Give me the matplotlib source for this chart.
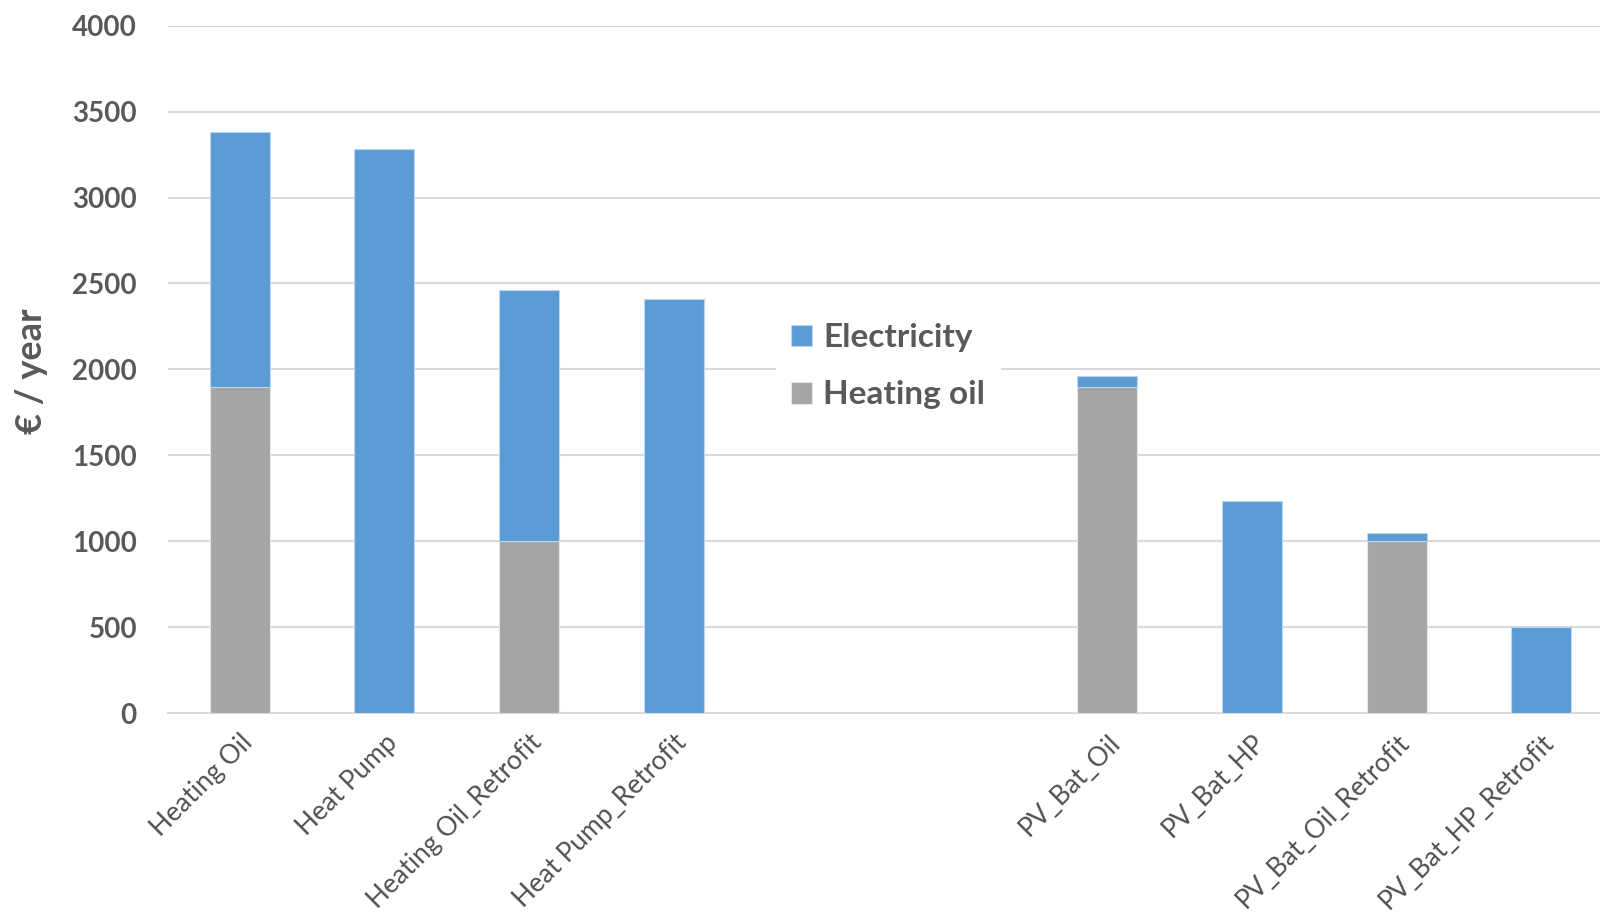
import matplotlib
matplotlib.use("Agg")
import matplotlib.pyplot as plt
import numpy as np

# Annual energy cost per scenario (€ / year); two blank slots separate the groups
categories = ["Heating Oil", "Heat Pump", "Heating Oil_Retrofit", "Heat Pump_Retrofit",
              "", "",
              "PV_Bat_Oil", "PV_Bat_HP", "PV_Bat_Oil_Retrofit", "PV_Bat_HP_Retrofit"]
heating_oil = [1900, 0, 1000, 0, 0, 0, 1900, 0, 1000, 0]
electricity = [1480, 3280, 1460, 2410, 0, 0, 60, 1235, 45, 500]

yticks = [0, 500, 1000, 1500, 2000, 2500, 3000, 3500, 4000]

BLUE = "#5B9BD5"
GREY = "#A5A5A5"
TEXT = "#595959"
GRID = "#D9D9D9"

plt.rcParams["font.family"] = ["Lato", "DejaVu Sans"]

fig = plt.figure(figsize=(16, 9.18), dpi=100)
ax = fig.add_axes([0.1047, 0.2233, 0.90375, 0.7487])

x = np.arange(len(categories))
width = 0.415
ax.bar(x, heating_oil, width, color=GREY, edgecolor="#E6E6E6", linewidth=0.8,
       label="Heating oil", zorder=3)
ax.bar(x, electricity, width, bottom=heating_oil, color=BLUE, edgecolor="#BBD6EE",
       linewidth=0.8, label="Electricity", zorder=3)

ax.set_xlim(-0.5, len(categories) - 0.5)
ax.set_ylim(0, 4000)
ax.set_yticks(yticks)
ax.set_yticklabels([str(v) for v in yticks], fontsize=20, fontweight="bold", color=TEXT)
ax.tick_params(axis="y", length=0, pad=22)
ax.grid(axis="y", color=GRID, linewidth=1.5, zorder=0)

ax.set_xticks(x)
ax.set_xticklabels(categories, rotation=45, ha="right", va="top",
                   rotation_mode="anchor", fontsize=19, color="#505050")
ax.tick_params(axis="x", length=0, pad=12)

for side in ("top", "right", "left"):
    ax.spines[side].set_visible(False)
ax.spines["bottom"].set_color(GRID)
ax.spines["bottom"].set_linewidth(1.5)

ax.set_ylabel("€ / year", fontsize=26, fontweight="bold", color=TEXT)
ax.yaxis.set_label_coords(-0.083, 0.497)

handles, labels = ax.get_legend_handles_labels()
leg = fig.legend(handles[::-1], labels[::-1], loc="center",
                 bbox_to_anchor=(0.555, 0.601), frameon=True, fancybox=False,
                 edgecolor="white", facecolor="white", framealpha=1,
                 prop={"family": ["Lato", "DejaVu Sans"], "weight": "bold", "size": 24},
                 handlelength=0.62, handleheight=0.62, handletextpad=0.35,
                 labelspacing=0.85, borderpad=0.45)
for t in leg.get_texts():
    t.set_color(TEXT)

fig.savefig("out.png", dpi=100)
